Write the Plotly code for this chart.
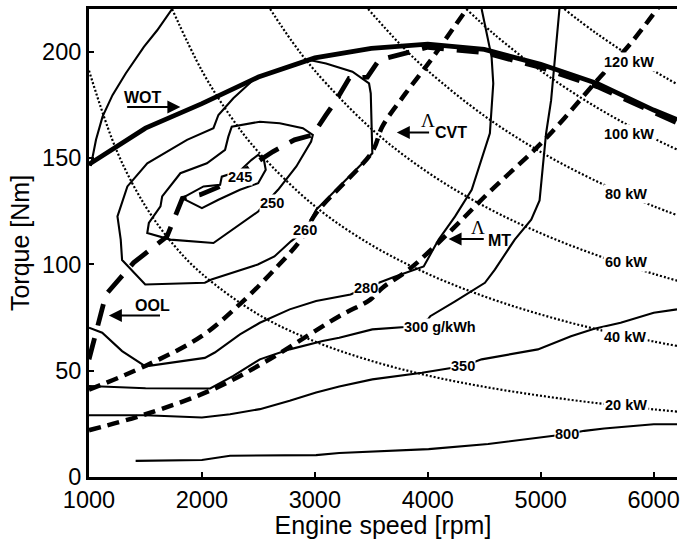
import plotly.graph_objects as go

# ---------------- data ----------------
# full-load (wide open throttle) torque curve
wot_rpm = [1000, 1500, 2000, 2500, 3000, 3500, 4000, 4500, 5000, 5500, 6000, 6207]
wot_nm = [147, 164, 175.5, 188, 197, 201.5, 203.5, 201, 194, 185, 172.5, 168]

# optimal operating line (OOL)
ool_rpm = [1000, 1150, 1396, 1690, 1827, 1985, 2161, 2630, 2820, 2982, 3099, 3187, 3304, 3465, 3568,
           3800, 4000, 4500, 5000, 5500, 6000, 6207]
ool_nm = [55.3, 85.8, 100.8, 113, 131, 132.7, 136.6, 153, 158.5, 160.8, 170.2, 177, 187.4, 188, 196,
          199.5, 202, 199.5, 192.5, 183.5, 171.5, 166.5]

# Lambda CVT and Lambda MT operating lines
cvt_rpm = [1000, 1498, 1997, 2349, 2642, 2876, 3011, 3509, 3597, 3803, 4037, 4213, 4360]
cvt_nm = [41, 52.2, 66.2, 81.9, 97.5, 111.6, 124, 153, 164.7, 180.3, 196.7, 210, 221]
mt_rpm = [1000, 1501, 2102, 2572, 3216, 3491, 3597, 3832, 4184, 4536, 5034, 5503, 5796, 6045]
mt_nm = [22, 29.5, 41.3, 54.5, 75.6, 83.4, 88.9, 97.5, 114.7, 133.5, 158.5, 186.6, 203.8, 221]

# iso-BSFC contours [g/kWh]
c245_rpm = [1824, 2000, 2146, 2337, 2498, 2565, 2548, 2498, 2440, 2337, 2176, 2161, 2014, 1824]
c245_nm = [131.1, 126.4, 130.3, 135, 138.1, 144.4, 149.4, 151.4, 149.1, 144, 141.2, 137.4, 136.6, 131.1]
c250_rpm = [2674, 2836, 2967, 2982, 2894, 2689, 2513, 2264, 2234, 2205, 2044, 1809, 1648, 1633, 1530,
            1516, 1721, 2102, 2498, 2674]
c250_nm = [135, 146, 157.7, 160.8, 164, 166.3, 167, 164.7, 160, 153.8, 147.5, 142.8, 131.9, 127.2, 119.4,
           114.7, 111.6, 110, 124.8, 135]
c260_rpm = [2513, 2454, 2278, 2146, 2102, 1868, 1516, 1340, 1252, 1281, 1293, 1396, 1498, 2026, 2084,
            2495, 2642, 2788, 2914, 3011, 3099, 3509, 3495, 3480, 3333, 3099, 2952]
c260_nm = [188, 186.6, 178, 170.2, 164, 158.5, 147.5, 136.6, 122.5, 111.6, 102, 96, 90.5, 91.3, 92.8,
           99.9, 103.7, 110.8, 116, 125.6, 130.3, 152.2, 180.3, 185, 190.5, 194.4, 196]
c280_rpm = [1000, 1117, 1293, 1500, 2026, 2114, 2337, 2513, 2777, 3011, 3316, 3451, 3700, 3964, 4096,
            4242, 4389, 4477, 4550, 4580, 4565, 4477]
c280_nm = [70.2, 67.8, 59.2, 52, 56, 58.5, 67, 72.5, 78.8, 82.7, 85.8, 89, 94, 99, 111.6,
           122.5, 135, 149, 161.6, 185, 197.5, 220]
c280b_rpm = [1000, 1018, 1062, 1120, 1208, 1325, 1486, 1604, 1736]
c280b_nm = [147, 146.7, 158.5, 169.4, 179.5, 189.7, 202.2, 210, 220]
c300_rpm = [1000, 1501, 2073, 2278, 2513, 2777, 3069, 3216, 3509, 3800, 4000, 4022, 4242, 4506, 4594,
            4770, 4916, 4990, 5019, 5048, 5092, 5122, 5151, 5166]
c300_nm = [42.8, 41.7, 41.6, 47.5, 55.3, 60, 63.9, 65.5, 69.4, 70.5, 74, 75.6, 82.6, 91.3, 97.5,
           111.6, 121, 130, 146, 161.6, 177, 193, 208.5, 220]
c350_rpm = [1000, 1501, 2000, 2249, 2513, 2777, 3011, 3216, 3509, 3949, 4316, 4477, 4975, 5268, 5474,
            5708, 6001, 6207]
c350_nm = [29, 29, 28, 29.5, 31.9, 35.8, 39.7, 42.5, 45.9, 49, 52.2, 55.3, 60, 66.2, 69.7,
           72.5, 77.2, 78.8]
c800_rpm = [1413, 2000, 2249, 3011, 3216, 4008, 4535, 4975, 5239, 5386, 5562, 6001, 6207]
c800_nm = [7.6, 8, 10, 10.3, 11.3, 13.1, 15.5, 18.6, 20.2, 21.7, 22.8, 24.8, 24.8]

# constant-power lines
p20_rpm = [1000, 1250, 1500, 1750, 2000, 2500, 3000, 3500, 4000, 4500, 5000, 5500, 6000, 6500]
p20_nm = [191, 152.8, 127.3, 109.1, 95.5, 76.4, 63.7, 54.6, 47.7, 42.4, 38.2, 34.7, 31.8, 29.4]
p40_rpm = [1736, 2000, 2250, 2500, 3000, 3500, 4000, 4500, 5000, 5500, 6000, 6500]
p40_nm = [220, 191, 169.8, 152.8, 127.3, 109.1, 95.5, 84.9, 76.4, 69.4, 63.7, 58.8]
p60_rpm = [2604, 2800, 3000, 3500, 4000, 4500, 5000, 5500, 6000, 6500]
p60_nm = [220, 204.6, 191, 163.7, 143.2, 127.3, 114.6, 104.2, 95.5, 88.1]
p80_rpm = [3472, 3750, 4000, 4500, 5000, 5500, 6000, 6500]
p80_nm = [220, 203.7, 191, 169.8, 152.8, 138.9, 127.3, 117.5]
p100_rpm = [4341, 4600, 5000, 5500, 6000, 6500]
p100_nm = [220, 207.6, 191, 173.6, 159.2, 146.9]
p120_rpm = [5209, 5500, 6000, 6500]
p120_nm = [220, 208.3, 191, 176.3]

# labels
bsfc_labels = ["245", "250", "260", "280", "300 g/kWh", "350", "800"]
bsfc_label_rpm = [2337, 2621, 2914, 3451, 4105, 4316, 5230]
bsfc_label_nm = [141, 128.9, 116, 89, 70.6, 52.2, 20.2]
kw_labels = ["120 kW", "100 kW", "80 kW", "60 kW", "40 kW", "20 kW"]
kw_label_rpm = [5782, 5782, 5758, 5758, 5745, 5758]
kw_label_nm = [195.3, 161.3, 133.1, 101, 65.9, 33.8]

x_ticks = [1000, 2000, 3000, 4000, 5000, 6000]
y_ticks = [0, 50, 100, 150, 200]

# ---------------- figure ----------------
fig = go.Figure()
BLACK = "black"
dot_style = "2px,2px"

for xs, ys in [(p20_rpm, p20_nm), (p40_rpm, p40_nm), (p60_rpm, p60_nm),
               (p80_rpm, p80_nm), (p100_rpm, p100_nm), (p120_rpm, p120_nm)]:
    fig.add_trace(go.Scatter(x=xs, y=ys, mode="lines", line_shape="spline",
                             line=dict(color=BLACK, width=2.2, dash=dot_style),
                             hoverinfo="skip", showlegend=False))

for xs, ys in [(c245_rpm, c245_nm), (c250_rpm, c250_nm), (c260_rpm, c260_nm),
               (c280_rpm, c280_nm), (c280b_rpm, c280b_nm), (c300_rpm, c300_nm),
               (c350_rpm, c350_nm), (c800_rpm, c800_nm)]:
    fig.add_trace(go.Scatter(x=xs, y=ys, mode="lines",
                             line=dict(color=BLACK, width=2.1),
                             hoverinfo="skip", showlegend=False))

for xs, ys in [(cvt_rpm, cvt_nm), (mt_rpm, mt_nm)]:
    fig.add_trace(go.Scatter(x=xs, y=ys, mode="lines", line_shape="spline",
                             line=dict(color=BLACK, width=4.5, dash="12px,7px"),
                             hoverinfo="skip", showlegend=False))

fig.add_trace(go.Scatter(x=wot_rpm, y=wot_nm, mode="lines",
                         line=dict(color=BLACK, width=4.8),
                         hoverinfo="skip", showlegend=False))
fig.add_trace(go.Scatter(x=ool_rpm, y=ool_nm, mode="lines",
                         line=dict(color=BLACK, width=4.8, dash="22px,13px"),
                         hoverinfo="skip", showlegend=False))

FONT = "Liberation Sans, Arial, Helvetica, sans-serif"
ann = []
for t, x, y in zip(bsfc_labels, bsfc_label_rpm, bsfc_label_nm):
    ann.append(dict(x=x, y=y, text="<b>%s</b>" % t, showarrow=False, bgcolor="white", borderpad=0,
                    font=dict(family=FONT, size=14.5, color=BLACK)))
for t, x, y in zip(kw_labels, kw_label_rpm, kw_label_nm):
    ann.append(dict(x=x, y=y, text="<b>%s</b>" % t, showarrow=False, bgcolor="white", borderpad=1,
                    font=dict(family=FONT, size=14.5, color=BLACK)))

def arrow(hx, hy, tx, ty):
    return dict(x=hx, y=hy, ax=tx, ay=ty, xref="x", yref="y", axref="x", ayref="y",
                text="", showarrow=True, arrowhead=2, arrowsize=1.3, arrowwidth=2,
                arrowcolor=BLACK, standoff=0, startstandoff=0)

ann += [
    dict(x=1475, y=178.6, text="<b>WOT</b>", showarrow=False, font=dict(family=FONT, size=16, color=BLACK)),
    arrow(1809, 173.9, 1325, 173.9),
    dict(x=1558, y=80.8, text="<b>OOL</b>", showarrow=False, font=dict(family=FONT, size=16, color=BLACK)),
    arrow(1176, 75.9, 1642, 75.9),
    dict(x=3999, y=167.5, text="Λ", showarrow=False,
         font=dict(family="Liberation Serif, DejaVu Serif, serif", size=19, color=BLACK)),
    dict(x=4210, y=162, text="<b>CVT</b>", showarrow=False, font=dict(family=FONT, size=16, color=BLACK)),
    arrow(3726, 161.9, 4025, 161.9),
    dict(x=4448, y=117.5, text="Λ", showarrow=False,
         font=dict(family="Liberation Serif, DejaVu Serif, serif", size=19, color=BLACK)),
    dict(x=4632, y=111.1, text="<b>MT</b>", showarrow=False, font=dict(family=FONT, size=16, color=BLACK)),
    arrow(4184, 111.9, 4509, 111.9),
]

fig.update_layout(
    width=680, height=539,
    margin=dict(l=89, r=0, t=9, b=62),
    plot_bgcolor="white", paper_bgcolor="white",
    font=dict(family=FONT, size=23.5, color=BLACK),
    annotations=ann,
    showlegend=False,
)
fig.update_xaxes(range=[1000, 6207], tickvals=x_ticks, ticktext=[str(v) for v in x_ticks],
                 ticks="inside", ticklen=5, tickwidth=2, tickcolor=BLACK,
                 showline=True, linecolor=BLACK, linewidth=3, mirror=True,
                 showgrid=False, zeroline=False, ticklabeloverflow="allow",
                 title=dict(text="Engine speed [rpm]", font=dict(size=25), standoff=3),
                 tickfont=dict(size=23.5))
fig.update_yaxes(range=[0, 220], tickvals=y_ticks, ticktext=[str(v) for v in y_ticks],
                 ticks="inside", ticklen=5, tickwidth=2, tickcolor=BLACK,
                 showline=True, linecolor=BLACK, linewidth=3, mirror=False,
                 showgrid=False, zeroline=False,
                 title=dict(text="Torque [Nm]", font=dict(size=25), standoff=6),
                 tickfont=dict(size=23.5))

fig.write_html("out.html")
